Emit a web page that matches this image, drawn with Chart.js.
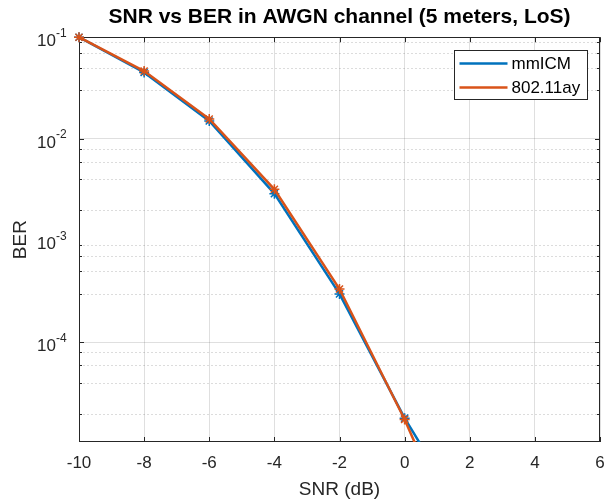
<!DOCTYPE html>
<html>
<head>
<meta charset="utf-8">
<script src="https://cdn.jsdelivr.net/npm/chart.js@4.4.0/dist/chart.umd.min.js"></script>
<style>
  html, body { margin: 0; padding: 0; background: #fff; }
</style>
</head>
<body>
<canvas id="berChart" width="607" height="502"></canvas>
<script>
// data
const snr = [-10, -8, -6, -4, -2, 0, 2];
const berMmicm = [0.1, 0.045, 0.0150, 0.0029, 3.0e-4, 1.8e-5, 1.6e-6];
const ber80211ay = [0.1, 0.0465, 0.0157, 0.0032, 3.35e-4, 1.75e-5, 6e-7];

const xTicks = [-10, -8, -6, -4, -2, 0, 2, 4, 6];
const yDecades = [-4, -3, -2, -1];          // labelled powers of ten
const yMinorSteps = [2, 3, 4, 5, 6, 7, 8, 9];
const yMin = 1.05e-5, yMax = 0.1;

const FONT = 'Liberation Sans, Arial, Helvetica, sans-serif';
const AXIS = '#262626';

function isDecade(v) {
  const l = Math.log10(v);
  return Math.abs(l - Math.round(l)) < 1e-9;
}

// box, inward ticks, minor dotted grid, y labels and legend, MATLAB style
const matlabAxes = {
  id: 'matlabAxes',
  beforeDatasetsDraw(chart) {
    const {ctx, chartArea: a, scales: {x, y}} = chart;
    ctx.save();
    // minor grid
    ctx.strokeStyle = 'rgba(38,38,38,0.16)';
    ctx.lineWidth = 1;
    ctx.setLineDash([2, 2]);
    y.ticks.forEach(t => {
      if (isDecade(t.value)) return;
      const py = Math.round(y.getPixelForValue(t.value)) + 0.5;
      ctx.beginPath();
      ctx.moveTo(a.left, py);
      ctx.lineTo(a.right, py);
      ctx.stroke();
    });
    ctx.setLineDash([]);
    // box
    ctx.strokeStyle = AXIS;
    ctx.strokeRect(Math.round(a.left) + 0.5, Math.round(a.top) + 0.5,
      Math.round(a.right - a.left) - 1, Math.round(a.bottom - a.top) - 1);
    // ticks
    ctx.beginPath();
    xTicks.forEach(v => {
      const px = Math.round(x.getPixelForValue(v)) + 0.5;
      ctx.moveTo(px, a.bottom); ctx.lineTo(px, a.bottom - 5);
      ctx.moveTo(px, a.top); ctx.lineTo(px, a.top + 5);
    });
    y.ticks.forEach(t => {
      const len = isDecade(t.value) ? 5 : 3;
      const py = Math.round(y.getPixelForValue(t.value)) + 0.5;
      ctx.moveTo(a.left, py); ctx.lineTo(a.left + len, py);
      ctx.moveTo(a.right, py); ctx.lineTo(a.right - len, py);
    });
    ctx.stroke();
    ctx.restore();
  },
  afterDraw(chart) {
    const {ctx, chartArea: a, scales: {y}} = chart;
    ctx.save();
    ctx.fillStyle = AXIS;
    ctx.textBaseline = 'middle';
    yDecades.forEach(e => {
      const py = y.getPixelForValue(Math.pow(10, e));
      const xr = a.left - 23;
      ctx.font = '17px ' + FONT;
      ctx.textAlign = 'right';
      ctx.fillText('10', xr, py + 4);
      ctx.font = '12px ' + FONT;
      ctx.textAlign = 'left';
      ctx.fillText(String(e), xr, py - 4);
    });

    // legend
    const w = 133, h = 49;
    const lx = Math.round(a.right - 13 - w) + 0.5, ly = Math.round(a.top + 13) + 0.5;
    ctx.fillStyle = '#fff';
    ctx.fillRect(lx, ly, w, h);
    ctx.strokeStyle = AXIS;
    ctx.lineWidth = 1;
    ctx.strokeRect(lx, ly, w, h);
    ctx.font = '17px ' + FONT;
    ctx.textAlign = 'left';
    chart.data.datasets.forEach((ds, i) => {
      const ry = ly + 13 + i * 24;
      ctx.strokeStyle = ds.borderColor;
      ctx.lineWidth = 2.5;
      ctx.beginPath();
      ctx.moveTo(lx + 5, ry);
      ctx.lineTo(lx + 53, ry);
      ctx.stroke();
      ctx.fillStyle = '#000';
      ctx.fillText(ds.label, lx + 57, ry + 1);
    });
    ctx.restore();
  }
};

function series(label, values, color, order) {
  return {
    label: label,
    data: snr.map((s, i) => ({x: s, y: values[i]})),
    borderColor: color,
    backgroundColor: color,
    borderWidth: 2.5,
    pointStyle: 'star',
    pointRadius: 5,
    pointBorderWidth: 1.5,
    pointBorderColor: color,
    tension: 0,
    order: order,
    clip: {left: false, top: false, right: 0, bottom: 0}
  };
}

new Chart(document.getElementById('berChart'), {
  type: 'line',
  data: {
    datasets: [
      series('mmICM', berMmicm, '#0072BD', 2),
      series('802.11ay', ber80211ay, '#D95319', 1)
    ]
  },
  plugins: [matlabAxes],
  options: {
    responsive: false,
    animation: false,
    devicePixelRatio: 1,
    layout: { padding: { left: 0, right: 7, top: 0, bottom: 0 } },
    plugins: {
      legend: { display: false },
      tooltip: { enabled: false },
      title: {
        display: true,
        fullSize: false,
        text: 'SNR vs BER in AWGN channel (5 meters, LoS)',
        color: '#000',
        font: { family: FONT, size: 21, weight: 'bold' },
        padding: { top: 5, bottom: 7 }
      }
    },
    scales: {
      x: {
        type: 'linear',
        min: -10,
        max: 6,
        afterBuildTicks: s => { s.ticks = xTicks.map(v => ({value: v})); },
        afterFit: s => { s.height = 60; s.paddingLeft = 0; s.paddingRight = 0; },
        ticks: {
          color: AXIS,
          font: { family: FONT, size: 17 },
          padding: 11,
          maxRotation: 0,
          autoSkip: false
        },
        grid: { color: 'rgba(38,38,38,0.15)', drawTicks: false },
        border: { display: false },
        title: {
          display: true,
          text: 'SNR (dB)',
          color: AXIS,
          font: { family: FONT, size: 19 },
          padding: { top: 0, bottom: 1 }
        }
      },
      y: {
        type: 'logarithmic',
        min: yMin,
        max: yMax,
        afterBuildTicks: s => {
          const t = [];
          for (let e = yDecades[0] - 1; e <= yDecades[yDecades.length - 1]; e++) {
            [1].concat(yMinorSteps).forEach(m => {
              const v = m * Math.pow(10, e);
              if (v >= yMin && v <= yMax * 1.0001) t.push({value: v});
            });
          }
          s.ticks = t;
        },
        afterFit: s => { s.width = 79; s.paddingTop = 0; s.paddingBottom = 0; },
        ticks: { callback: () => '' },
        grid: {
          color: c => (c.tick && isDecade(c.tick.value)) ? 'rgba(38,38,38,0.15)' : 'rgba(0,0,0,0)',
          drawTicks: false
        },
        border: { display: false },
        title: {
          display: true,
          text: 'BER',
          color: AXIS,
          font: { family: FONT, size: 19 },
          padding: { top: 9, bottom: 0 }
        }
      }
    }
  }
});
</script>
</body>
</html>
